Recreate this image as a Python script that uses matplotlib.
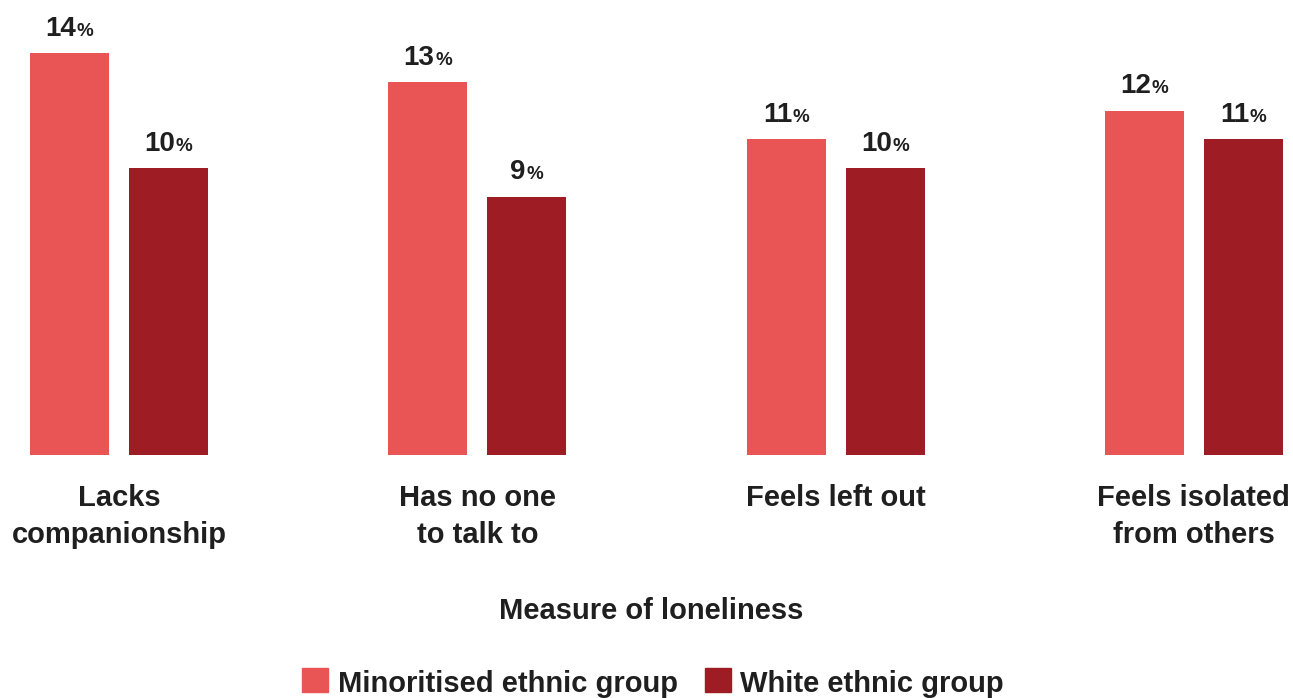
import matplotlib
matplotlib.use("Agg")
import matplotlib.pyplot as plt
from matplotlib.patches import Rectangle
import numpy as np

plt.rcParams['font.family'] = ['Liberation Sans', 'DejaVu Sans']
plt.rcParams['font.weight'] = 'bold'

categories = ["Lacks\ncompanionship", "Has no one\nto talk to", "Feels left out", "Feels isolated\nfrom others"]
minoritised = [14, 13, 11, 12]
white = [10, 9, 10, 11]
series_names = ["Minoritised ethnic group", "White ethnic group"]
colors = ["#E95454", "#9E1C23"]
text_color = "#1f1f1f"

W, H, DPI = 1293, 698, 100
fig = plt.figure(figsize=(W / DPI, H / DPI), dpi=DPI)
fig.patch.set_facecolor("white")

# axes spans full width; baseline at y=455 px
base_px = 455
ax = fig.add_axes([0, (H - base_px) / H, 1, base_px / H])
spacing_px = 358.3
first_center_px = 119
ax.set_xlim((0 - first_center_px) / spacing_px, (W - first_center_px) / spacing_px)
ax.set_ylim(0, base_px / 28.7)
ax.axis("off")

x = np.arange(len(categories))
bw = 79 / spacing_px
off = 49.5 / spacing_px

bars_m = ax.bar(x - off, minoritised, width=bw, color=colors[0])
bars_w = ax.bar(x + off, white, width=bw, color=colors[1])

fig.canvas.draw()
renderer = fig.canvas.get_renderer()

label_size = 21
num_size = 20
pct_size = 13.5
gap_px = 0.5

def label_bar(xc, val):
    t_num = ax.annotate(f"{val}", xy=(xc, val), xytext=(0, 12.5), textcoords="offset points",
                        ha="center", va="baseline", fontsize=num_size, color=text_color,
                        fontweight="bold")
    t_pct = ax.annotate("%", xy=(xc, val), xytext=(0, 12.5), textcoords="offset points",
                        ha="left", va="baseline", fontsize=pct_size, color=text_color,
                        fontweight="bold")
    wn = t_num.get_window_extent(renderer).width
    wp = t_pct.get_window_extent(renderer).width
    total = wn + wp + gap_px
    shift_px = -total / 2
    t_num.xyann = ((shift_px + wn / 2) * 72 / DPI, 12.5)
    t_pct.xyann = ((shift_px + wn + gap_px) * 72 / DPI, 12.5)

for xi, v in zip(x - off, minoritised):
    label_bar(xi, v)
for xi, v in zip(x + off, white):
    label_bar(xi, v)

# category labels below baseline
for xi, cat in zip(x, categories):
    ax.annotate(cat, xy=(xi, 0), xytext=(0, -21), textcoords="offset points",
                ha="center", va="top", fontsize=label_size, color=text_color,
                fontweight="bold", linespacing=1.39)

# axis title
fig.text(651 / W, 1 - 619 / H, "Measure of loneliness", ha="center", va="baseline",
         fontsize=label_size, color=text_color, fontweight="bold")

# legend
sq_top, sq_w, sq_h = 668, 26, 24
items = [(302, 338), (705, 740)]
for (sx, tx), name, c in zip(items, series_names, colors):
    fig.patches.append(Rectangle((sx / W, 1 - (sq_top + sq_h) / H), sq_w / W, sq_h / H,
                                 transform=fig.transFigure, color=c))
    fig.text(tx / W, 1 - 692 / H, name, ha="left", va="baseline",
             fontsize=label_size, color=text_color, fontweight="bold")

fig.savefig("out.png", dpi=DPI, facecolor="white")
